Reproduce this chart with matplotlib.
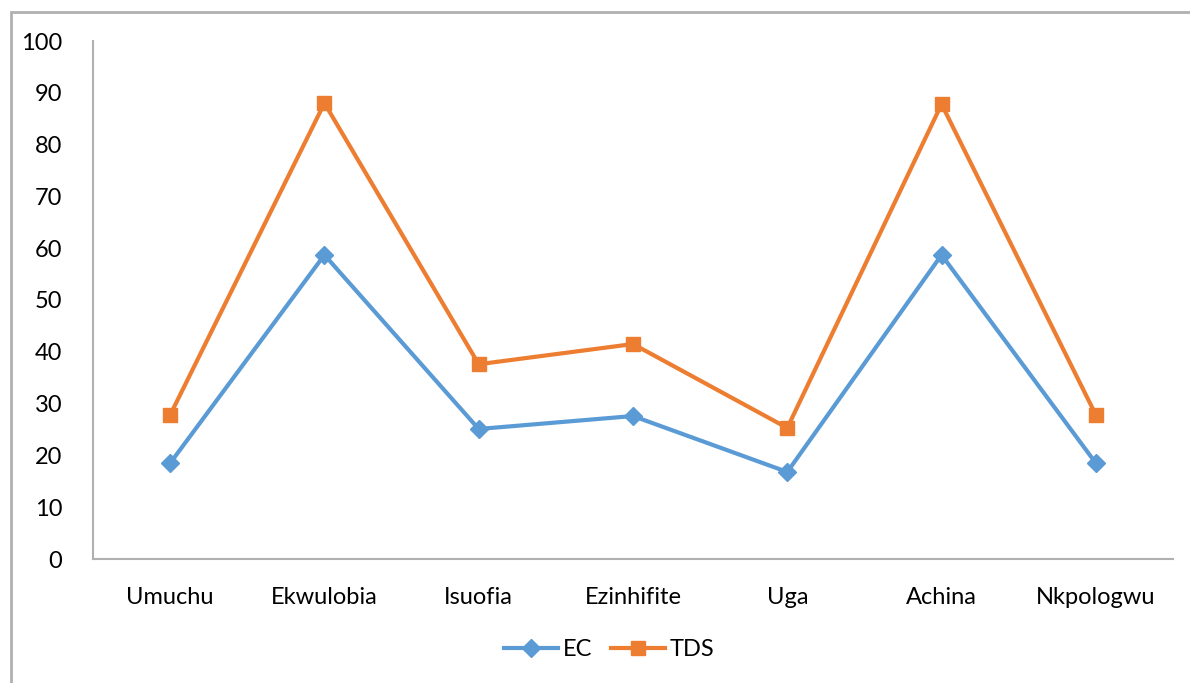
import matplotlib.pyplot as plt
from matplotlib.patches import Rectangle

sites = ["Umuchu", "Ekwulobia", "Isuofia", "Ezinhifite", "Uga", "Achina", "Nkpologwu"]
ec = [18.5, 58.7, 25.1, 27.6, 16.8, 58.7, 18.5]
tds = [27.8, 88.0, 37.6, 41.5, 25.3, 87.8, 27.8]

plt.rcParams['font.family'] = ['Lato', 'DejaVu Sans']

W, H = 1190, 683
fig = plt.figure(figsize=(W / 100, H / 100), dpi=100)

# outer chart frame (left/top edges visible, rest runs off the picture)
fig.patches.append(Rectangle((11 / W, -0.1), 1.2, 1 - 12 / H + 0.1,
                             transform=fig.transFigure, fill=False,
                             edgecolor='#b0b0b0', linewidth=2))

ax = fig.add_axes([93 / W, 1 - 559 / H, (1173 - 93) / W, (559 - 41) / H])

x = range(len(sites))
ax.plot(x, ec, color='#5b9bd5', linewidth=3, marker='D', markersize=9,
        label='EC', zorder=3)
ax.plot(x, tds, color='#ed7d31', linewidth=3, marker='s', markersize=10,
        label='TDS', zorder=3)

ax.set_xlim(-0.5, len(sites) - 0.5)
ax.set_ylim(0, 100)
ax.set_yticks(range(0, 101, 10))
ax.set_xticks(list(x))
ax.set_xticklabels(sites)

for s in ['top', 'right']:
    ax.spines[s].set_visible(False)
for s in ['left', 'bottom']:
    ax.spines[s].set_color('#b0b0b0')
    ax.spines[s].set_linewidth(1.5)
ax.tick_params(axis='both', length=0, labelsize=17, colors='black')
ax.tick_params(axis='y', pad=22)
ax.tick_params(axis='x', pad=20)

ax.legend(loc='center', bbox_to_anchor=(0.478, -91 / 518), ncol=2,
          frameon=False, fontsize=17, handlelength=2.3, columnspacing=0.8,
          handletextpad=0.2)

fig.savefig('out.png', dpi=100)
